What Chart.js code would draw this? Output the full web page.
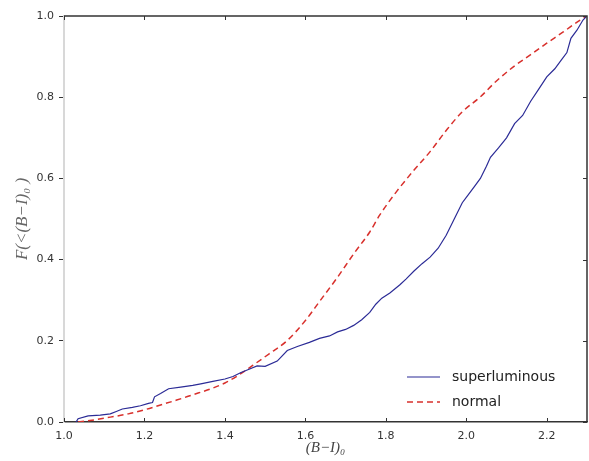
<!DOCTYPE html>
<html>
<head>
<meta charset="utf-8">
<script src="https://cdn.jsdelivr.net/npm/chart.js@4/dist/chart.umd.min.js"></script>
<style>
    body { margin: 0; background: #fff; }
    #cdf { display: block; }
</style>
</head>
<body>
<canvas id="cdf" width="589" height="461"></canvas>
<script>
// colour values
const superX = [1.03, 1.035, 1.06, 1.09, 1.115, 1.13, 1.145, 1.17, 1.19, 1.21, 1.22, 1.225, 1.24, 1.26, 1.29, 1.32, 1.34, 1.37, 1.40, 1.42, 1.44, 1.46, 1.48, 1.50, 1.53, 1.555, 1.58, 1.61, 1.635, 1.66, 1.68, 1.70, 1.72, 1.74, 1.76, 1.775, 1.79, 1.81, 1.835, 1.85, 1.87, 1.89, 1.91, 1.93, 1.95, 1.97, 1.99, 2.00, 2.02, 2.035, 2.05, 2.06, 2.08, 2.10, 2.12, 2.14, 2.16, 2.18, 2.20, 2.22, 2.235, 2.25, 2.26, 2.275, 2.29, 2.30];
const superY = [0.0, 0.008, 0.015, 0.017, 0.02, 0.026, 0.032, 0.036, 0.04, 0.046, 0.048, 0.062, 0.07, 0.082, 0.086, 0.09, 0.094, 0.1, 0.106, 0.112, 0.122, 0.13, 0.138, 0.137, 0.15, 0.176, 0.186, 0.196, 0.206, 0.212, 0.222, 0.228, 0.238, 0.252, 0.27, 0.29, 0.305, 0.318, 0.338, 0.352, 0.372, 0.39, 0.406, 0.428, 0.46, 0.5, 0.54, 0.553, 0.58, 0.6, 0.63, 0.652, 0.675, 0.7, 0.735, 0.755, 0.79, 0.82, 0.85, 0.87, 0.89, 0.91, 0.945, 0.965, 0.99, 1.0];

const normalX = [1.035, 1.08, 1.115, 1.16, 1.20, 1.24, 1.28, 1.32, 1.36, 1.40, 1.43, 1.47, 1.51, 1.554, 1.60, 1.636, 1.678, 1.72, 1.76, 1.785, 1.827, 1.868, 1.91, 1.95, 1.99, 2.034, 2.075, 2.116, 2.16, 2.20, 2.24, 2.283, 2.30];
const normalY = [0.0, 0.006, 0.012, 0.02, 0.03, 0.042, 0.054, 0.067, 0.08, 0.096, 0.113, 0.14, 0.168, 0.2, 0.25, 0.298, 0.354, 0.414, 0.468, 0.51, 0.568, 0.618, 0.666, 0.718, 0.764, 0.80, 0.84, 0.874, 0.905, 0.933, 0.96, 0.99, 1.0];

const xTicks = [1.0, 1.2, 1.4, 1.6, 1.8, 2.0, 2.2];
const yTicks = [0.0, 0.2, 0.4, 0.6, 0.8, 1.0];

function toPoints(xs, ys) {
    return xs.map((x, i) => ({ x: x, y: ys[i] }));
}

// frame, inward ticks and legend (matplotlib look)
const framePlugin = {
    id: 'frame',
    afterDraw(chart) {
        const ctx = chart.ctx;
        const a = chart.chartArea;
        const xs = chart.scales.x, ys = chart.scales.y;
        ctx.save();
        ctx.strokeStyle = '#333';
        ctx.lineWidth = 1.5;
        ctx.beginPath();
        ctx.moveTo(a.left, a.top);
        ctx.lineTo(a.right, a.top);
        ctx.lineTo(a.right, a.bottom);
        ctx.stroke();

        ctx.lineWidth = 1;
        ctx.beginPath();
        xTicks.forEach(v => {
            const px = Math.round(xs.getPixelForValue(v)) + 0.5;
            ctx.moveTo(px, a.top); ctx.lineTo(px, a.top + 4);
            ctx.moveTo(px, a.bottom); ctx.lineTo(px, a.bottom - 4);
        });
        yTicks.forEach(v => {
            const py = Math.round(ys.getPixelForValue(v)) + 0.5;
            ctx.moveTo(a.right, py); ctx.lineTo(a.right - 4, py);
        });
        ctx.stroke();

        // legend
        const sets = chart.data.datasets;
        ctx.font = '14px "DejaVu Sans"';
        ctx.textBaseline = 'middle';
        sets.forEach((ds, i) => {
            const y = a.bottom - 45 + i * 25;
            ctx.strokeStyle = ds.borderColor;
            ctx.lineWidth = ds.borderWidth;
            ctx.setLineDash(ds.borderDash || []);
            ctx.beginPath();
            ctx.moveTo(a.right - 180, y);
            ctx.lineTo(a.right - 147, y);
            ctx.stroke();
            ctx.setLineDash([]);
            ctx.fillStyle = '#222';
            ctx.fillText(ds.label, a.right - 135, y);
        });
        ctx.restore();
    }
};

const ctx = document.getElementById('cdf').getContext('2d');
new Chart(ctx, {
    type: 'line',
    data: {
        datasets: [{
            label: 'superluminous',
            data: toPoints(superX, superY),
            borderColor: '#2b2b96',
            borderWidth: 1.2,
            pointRadius: 0,
            tension: 0,
            fill: false
        }, {
            label: 'normal',
            data: toPoints(normalX, normalY),
            borderColor: '#d8302c',
            borderWidth: 1.5,
            borderDash: [6, 4],
            pointRadius: 0,
            cubicInterpolationMode: 'monotone',
            fill: false
        }]
    },
    options: {
        responsive: false,
        animation: false,
        layout: { padding: { top: 16, right: 2, left: 0, bottom: 0 } },
        plugins: {
            legend: { display: false },
            tooltip: { enabled: false }
        },
        scales: {
            x: {
                type: 'linear',
                min: 1.0,
                max: 2.3,
                afterFit: s => { s.height = 39; },
                afterBuildTicks: s => { s.ticks = xTicks.map(v => ({ value: v })); },
                ticks: {
                    padding: 8,
                    color: '#333',
                    font: { family: 'DejaVu Sans', size: 11 },
                    callback: v => v.toFixed(1),
                    maxRotation: 0
                },
                grid: { display: true, drawOnChartArea: false, drawTicks: false },
                border: { color: '#333', width: 1.5 },
                title: {
                    display: true,
                    text: '(B−I)₀',
                    color: '#444',
                    font: { family: 'Liberation Serif', style: 'italic', size: 15 },
                    padding: { top: 0, bottom: 4 }
                }
            },
            y: {
                type: 'linear',
                min: 0,
                max: 1,
                afterFit: s => { s.width = 64; },
                afterBuildTicks: s => { s.ticks = yTicks.map(v => ({ value: v })); },
                ticks: {
                    padding: 5,
                    color: '#333',
                    font: { family: 'DejaVu Sans', size: 11 },
                    callback: v => v.toFixed(1)
                },
                grid: { drawOnChartArea: false, drawTicks: true, tickLength: 5, color: '#333' },
                border: { color: '#d8d8d8', width: 2 },
                title: {
                    display: true,
                    text: 'F(<(B−I)₀ )',
                    color: '#666',
                    font: { family: 'Liberation Serif', style: 'italic', size: 17 },
                    padding: { top: 12, bottom: 0 }
                }
            }
        }
    },
    plugins: [framePlugin]
});
</script>
</body>
</html>
